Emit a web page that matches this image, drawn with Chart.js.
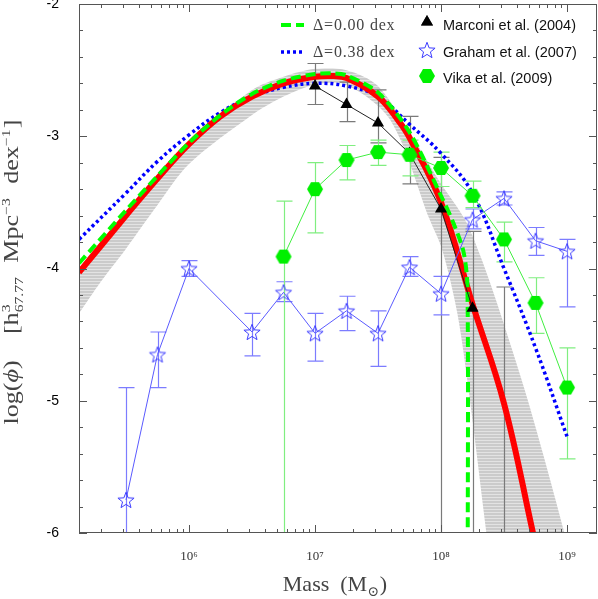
<!DOCTYPE html>
<html>
<head>
<meta charset="utf-8">
<script src="https://cdn.jsdelivr.net/npm/chart.js@4.4.1/dist/chart.umd.min.js"></script>
<style>
  html, body { margin: 0; padding: 0; background: #fff; }
  canvas { display: block; }
</style>
</head>
<body>
<canvas id="chart" width="598" height="599"></canvas>
<script>
// ===========================
// Mass function (x = log10 M/Msun, y = log phi)
// ===========================

const xMin = 5.127
const xMax = 9.238
const yMin = -6
const yMax = -2
const xMajorTicks = [6, 7, 8, 9]
const xTickLabels = ['10⁶', '10⁷', '10⁸', '10⁹']

// Marconi et al. (2004)
const marconiX = [7.0, 7.25, 7.5, 7.75, 8.0, 8.25, 8.5]
const marconiY = [-2.62, -2.76, -2.90, -3.13, -3.55, -4.30, null]
const marconiLo = [-2.76, -2.89, -3.05, -3.36, -6.5, -6.5, -6.5]
const marconiHi = [-2.45, -2.59, -2.65, -2.85, -3.16, -3.72, -4.14]

// Graham et al. (2007)
const grahamX = [5.5, 5.75, 6.0, 6.5, 6.75, 7.0, 7.25, 7.5, 7.75, 8.0, 8.25, 8.5, 8.75, 9.0]
const grahamY = [-5.75, -4.65, -4.00, -4.48, -4.18, -4.49, -4.32, -4.49, -3.99, -4.19, -3.63, -3.47, -3.79, -3.87]
const grahamLo = [-6.5, -4.90, -4.06, -4.66, -4.25, -4.70, -4.47, -4.74, -4.06, -4.35, -3.70, -3.52, -3.90, -4.29]
const grahamHi = [-4.90, -4.48, -3.94, -4.34, -4.10, -4.34, -4.21, -4.32, -3.91, -4.06, -3.55, -3.42, -3.69, -3.78]

// Vika et al. (2009)
const vikaX = [6.75, 7.0, 7.25, 7.5, 7.75, 8.0, 8.25, 8.5, 8.75, 9.0]
const vikaY = [-3.91, -3.40, -3.18, -3.12, -3.14, -3.24, -3.45, -3.78, -4.26, -4.90]
const vikaLo = [-6.5, -3.73, -3.33, -3.22, -3.30, -3.38, -3.54, -3.95, -4.49, -5.44]
const vikaHi = [-3.49, -3.20, -3.07, -3.03, -3.03, -3.12, -3.34, -3.65, -4.07, -4.60]

// model curves
const redX = [5.127, 5.5, 5.75, 6.0, 6.25, 6.5, 6.75, 7.0, 7.15, 7.25, 7.5, 7.66, 7.75, 8.0, 8.25, 8.5, 8.73, 8.8]
const redY = [-4.03, -3.60, -3.32, -3.06, -2.85, -2.70, -2.60, -2.55, -2.545, -2.56, -2.70, -2.88, -3.01, -3.50, -4.27, -5.02, -6.0, -6.3]

const greenX = [5.127, 5.5, 5.75, 6.0, 6.25, 6.5, 6.75, 7.0, 7.15, 7.25, 7.5, 7.75, 8.0, 8.1, 8.18, 8.21, 8.212]
const greenY = [-3.96, -3.56, -3.30, -3.05, -2.84, -2.68, -2.58, -2.53, -2.525, -2.54, -2.67, -2.97, -3.45, -3.66, -3.88, -4.15, -6.3]

const blueX = [5.127, 5.5, 5.75, 6.0, 6.25, 6.5, 6.75, 7.0, 7.25, 7.5, 7.75, 8.0, 8.25, 8.5, 8.75, 9.0]
const blueY = [-3.78, -3.43, -3.19, -2.99, -2.82, -2.70, -2.63, -2.60, -2.62, -2.70, -2.91, -3.13, -3.43, -4.00, -4.60, -5.27]

// grey uncertainty band, traced as a closed outline
const bandX = [5.127, 5.5, 6.0, 6.5, 6.75, 7.0, 7.25, 7.5, 7.81, 8.0, 8.19, 8.31, 8.44, 8.69, 8.98, 9.05,
  8.40, 8.36, 8.23, 8.13, 8.01, 7.91, 7.60, 7.25, 7.0, 6.75, 6.5, 6.0, 5.75, 5.5, 5.3, 5.127]
const bandY = [-4.02, -3.59, -3.04, -2.65, -2.55, -2.49, -2.50, -2.62, -3.06, -3.36, -3.63, -3.90, -4.25, -5.0, -6.0, -6.3,
  -6.3, -6.0, -5.0, -4.34, -3.86, -3.63, -2.88, -2.61, -2.61, -2.70, -2.84, -3.21, -3.52, -3.85, -4.10, -4.34]

const pts = (xs, ys) => xs.map((x, i) => ({ x, y: ys[i] }))

const serif = '"Liberation Serif", "DejaVu Serif", serif'
const sans = '"Liberation Sans", Arial, sans-serif'

const ctx0 = document.getElementById('chart').getContext('2d')

// hatched grey fill
function makeBandPattern() {
  const c = document.createElement('canvas')
  c.width = 4
  c.height = 3
  const g = c.getContext('2d')
  g.fillStyle = '#cbcbcb'
  g.fillRect(0, 0, 4, 3)
  g.fillStyle = '#e3e3e3'
  g.fillRect(0, 2, 4, 1)
  return ctx0.createPattern(c, 'repeat')
}

function makeStar() {
  const s = 20
  const c = document.createElement('canvas')
  c.width = c.height = s
  const g = c.getContext('2d')
  g.strokeStyle = '#3b3bff'
  g.lineWidth = 1
  g.beginPath()
  for (let i = 0; i < 10; i++) {
    const r = i % 2 ? 3.6 : 8.5
    const a = -Math.PI / 2 + (i * Math.PI) / 5
    g.lineTo(s / 2 + r * Math.cos(a), s / 2 + 0.8 + r * Math.sin(a))
  }
  g.closePath()
  g.stroke()
  return c
}

function makeHex() {
  const c = document.createElement('canvas')
  c.width = 18
  c.height = 16
  const g = c.getContext('2d')
  g.fillStyle = '#00f000'
  g.beginPath()
  g.moveTo(1, 8)
  g.lineTo(5, 1)
  g.lineTo(13, 1)
  g.lineTo(17, 8)
  g.lineTo(13, 15)
  g.lineTo(5, 15)
  g.closePath()
  g.fill()
  return c
}

const starImg = makeStar()
const hexImg = makeHex()

// error bars, drawn right after the grey band
const errorSets = [
  { xs: marconiX, lo: marconiLo, hi: marconiHi, color: '#7a7a7a' },
  { xs: grahamX, lo: grahamLo, hi: grahamHi, color: '#7c7cff' },
  { xs: vikaX, lo: vikaLo, hi: vikaHi, color: '#80ee80' }
]

const errorBars = {
  id: 'errorBars',
  afterDatasetDraw(chart, args) {
    if (chart.data.datasets[args.index].label !== 'band') return
    const { ctx, chartArea: a, scales: { x, y } } = chart
    ctx.save()
    ctx.beginPath()
    ctx.rect(a.left, a.top, a.right - a.left, a.bottom - a.top)
    ctx.clip()
    ctx.lineWidth = 1.2
    errorSets.forEach((s) => {
      ctx.strokeStyle = s.color
      s.xs.forEach((xv, i) => {
        const px = Math.round(x.getPixelForValue(xv)) + 0.5
        const p1 = y.getPixelForValue(s.lo[i])
        const p2 = y.getPixelForValue(s.hi[i])
        ctx.beginPath()
        ctx.moveTo(px, p1)
        ctx.lineTo(px, p2)
        ctx.moveTo(px - 8, p1)
        ctx.lineTo(px + 8, p1)
        ctx.moveTo(px - 8, p2)
        ctx.lineTo(px + 8, p2)
        ctx.stroke()
      })
    })
    ctx.restore()
  }
}

function rich(ctx, parts, size, draw, x0, y0) {
  let x = x0
  parts.forEach((p) => {
    if (p.t) {
      ctx.font = `${p.it ? 'italic ' : ''}${size}px ${serif}`
      if (draw) ctx.fillText(p.t, x, y0)
      x += ctx.measureText(p.t).width
    }
    if (p.sup || p.sub) {
      ctx.font = `${Math.round(size * 0.62)}px ${serif}`
      let w = 0
      if (p.sup) {
        if (draw) ctx.fillText(p.sup, x, y0 - size * 0.42)
        w = ctx.measureText(p.sup).width
      }
      if (p.sub) {
        if (draw) ctx.fillText(p.sub, x, y0 + size * 0.24)
        w = Math.max(w, ctx.measureText(p.sub).width)
      }
      x += w + 1
    }
  })
  return x - x0
}

const yTitleParts = [
  { t: 'log(' }, { t: 'ϕ', it: true }, { t: ')    [' }, { t: 'h', sup: '3', sub: '67.77' },
  { t: '  Mpc', sup: '−3' }, { t: '  dex', sup: '−1' }, { t: ']' }
]
const xTitleParts = [{ t: 'Mass  (M', sub: '⊙' }, { t: ')' }]

// frame, inward ticks, axis titles, legend
const decorations = {
  id: 'decorations',
  afterDraw(chart) {
    const { ctx, chartArea: a, scales: { x, y } } = chart
    ctx.save()
    ctx.strokeStyle = '#555'
    ctx.lineWidth = 1
    ctx.strokeRect(a.left + 0.5, a.top + 0.5, a.right - a.left - 1, a.bottom - a.top - 1)
    ctx.beginPath()
    x.ticks.forEach((t) => {
      const px = Math.round(x.getPixelForValue(t.value)) + 0.5
      const len = Math.abs(t.value - Math.round(t.value)) < 1e-6 ? 8 : 4
      ctx.moveTo(px, a.bottom)
      ctx.lineTo(px, a.bottom - len)
      ctx.moveTo(px, a.top)
      ctx.lineTo(px, a.top + len)
    })
    y.ticks.forEach((t) => {
      const py = Math.round(y.getPixelForValue(t.value)) + 0.5
      const len = Math.abs(t.value - Math.round(t.value)) < 1e-6 ? 8 : 4
      ctx.moveTo(a.left, py)
      ctx.lineTo(a.left + len, py)
      ctx.moveTo(a.right, py)
      ctx.lineTo(a.right - len, py)
    })
    ctx.stroke()

    // axis titles
    ctx.fillStyle = '#444'
    ctx.textBaseline = 'alphabetic'
    ctx.textAlign = 'left'
    const xw = rich(ctx, xTitleParts, 22, false, 0, 0)
    rich(ctx, xTitleParts, 22, true, (a.left + a.right) / 2 - xw / 2 - 3, 591)

    ctx.save()
    ctx.translate(18, 272)
    ctx.rotate(-Math.PI / 2)
    const yw = rich(ctx, yTitleParts, 20, false, 0, 0)
    ctx.scale(305 / yw, 1)
    rich(ctx, yTitleParts, 20, true, -yw / 2, 0)
    ctx.restore()

    // legend
    ctx.lineWidth = 4
    ctx.strokeStyle = '#00ff00'
    ctx.setLineDash([10, 5])
    ctx.beginPath()
    ctx.moveTo(281, 25)
    ctx.lineTo(304, 25)
    ctx.stroke()
    ctx.strokeStyle = '#0000ff'
    ctx.lineWidth = 3.5
    ctx.setLineDash([3, 3])
    ctx.beginPath()
    ctx.moveTo(281, 52)
    ctx.lineTo(304, 52)
    ctx.stroke()
    ctx.setLineDash([])

    ctx.fillStyle = '#444'
    ctx.textBaseline = 'middle'
    ctx.font = `16px ${serif}`
    ctx.letterSpacing = '0.8px'
    ctx.fillText('Δ=0.00 dex', 313, 26)
    ctx.fillText('Δ=0.38 dex', 313, 53)
    ctx.letterSpacing = '0px'

    Chart.helpers.drawPoint(ctx, { pointStyle: 'triangle', radius: 7, rotation: 0 }, 427, 22)
    ctx.fillStyle = '#000'
    ctx.fill()
    Chart.helpers.drawPoint(ctx, { pointStyle: starImg, radius: 8, rotation: 0 }, 427, 50)
    Chart.helpers.drawPoint(ctx, { pointStyle: hexImg, radius: 8, rotation: 0 }, 427, 76)

    ctx.fillStyle = '#111'
    ctx.font = `14.5px ${sans}`
    ctx.fillText('Marconi et al. (2004)', 443, 26)
    ctx.fillText('Graham et al. (2007)', 443, 53)
    ctx.fillText('Vika et al. (2009)', 443, 79)
    ctx.restore()
  }
}

const xTickValues = []
for (let n = 5; n <= 9; n++) {
  for (let k = 1; k <= 9; k++) {
    const v = n + Math.log10(k)
    if (v >= xMin && v <= xMax) xTickValues.push(v)
  }
}

new Chart(ctx0, {
  type: 'line',
  data: {
    datasets: [
      {
        label: 'band',
        data: pts(bandX, bandY),
        borderWidth: 0,
        borderColor: 'rgba(0,0,0,0)',
        backgroundColor: makeBandPattern(),
        fill: 'shape',
        tension: 0.3,
        pointRadius: 0,
        order: 9
      },
      {
        label: 'Δ=0.38 dex',
        data: pts(blueX, blueY),
        borderColor: '#0000ff',
        borderWidth: 3.5,
        borderDash: [3, 3],
        tension: 0.4,
        pointRadius: 0,
        order: 7
      },
      {
        label: 'fit',
        data: pts(redX, redY),
        borderColor: '#ff0000',
        borderWidth: 6,
        tension: 0.4,
        pointRadius: 0,
        order: 6
      },
      {
        label: 'Δ=0.00 dex',
        data: pts(greenX, greenY),
        borderColor: '#00ff00',
        borderWidth: 4,
        borderDash: [10, 5],
        tension: 0.3,
        pointRadius: 0,
        order: 5
      },
      {
        label: 'Marconi et al. (2004)',
        data: pts(marconiX, marconiY),
        borderColor: '#222',
        borderWidth: 1,
        backgroundColor: '#000',
        pointStyle: 'triangle',
        pointRadius: 7,
        pointBorderWidth: 0,
        spanGaps: false,
        order: 3
      },
      {
        label: 'Graham et al. (2007)',
        data: pts(grahamX, grahamY),
        borderColor: '#5a5aff',
        borderWidth: 1,
        pointStyle: starImg,
        pointRadius: 8,
        order: 2
      },
      {
        label: 'Vika et al. (2009)',
        data: pts(vikaX, vikaY),
        borderColor: '#40ee40',
        borderWidth: 1,
        pointStyle: hexImg,
        pointRadius: 8,
        order: 1
      }
    ]
  },
  options: {
    responsive: false,
    animation: false,
    layout: { autoPadding: false, padding: { top: 4, right: 1, left: 0, bottom: 0 } },
    plugins: {
      legend: { display: false },
      tooltip: { enabled: false }
    },
    scales: {
      x: {
        type: 'linear',
        min: xMin,
        max: xMax,
        grid: { display: false },
        border: { display: false },
        afterBuildTicks: (s) => {
          s.ticks = xTickValues.map((v) => ({ value: v }))
        },
        afterFit: (s) => {
          s.height = 66
          s.paddingLeft = 0
          s.paddingRight = 0
        },
        ticks: {
          autoSkip: false,
          maxRotation: 0,
          padding: 8,
          color: '#333',
          font: { family: serif, size: 13 },
          callback: (v) => {
            const i = xMajorTicks.findIndex((m) => Math.abs(m - v) < 1e-6)
            return i >= 0 ? xTickLabels[i] : ''
          }
        }
      },
      y: {
        type: 'linear',
        min: yMin,
        max: yMax,
        grid: { display: false },
        border: { display: false },
        afterFit: (s) => {
          s.width = 79
          s.paddingTop = 0
          s.paddingBottom = 0
        },
        ticks: {
          stepSize: 0.2,
          autoSkip: false,
          padding: 12,
          color: '#000',
          font: { family: sans, size: 14 },
          callback: (v) => (Math.abs(v - Math.round(v)) < 1e-6 ? String(Math.round(v)) : '')
        }
      }
    }
  },
  plugins: [errorBars, decorations]
})
</script>
</body>
</html>
